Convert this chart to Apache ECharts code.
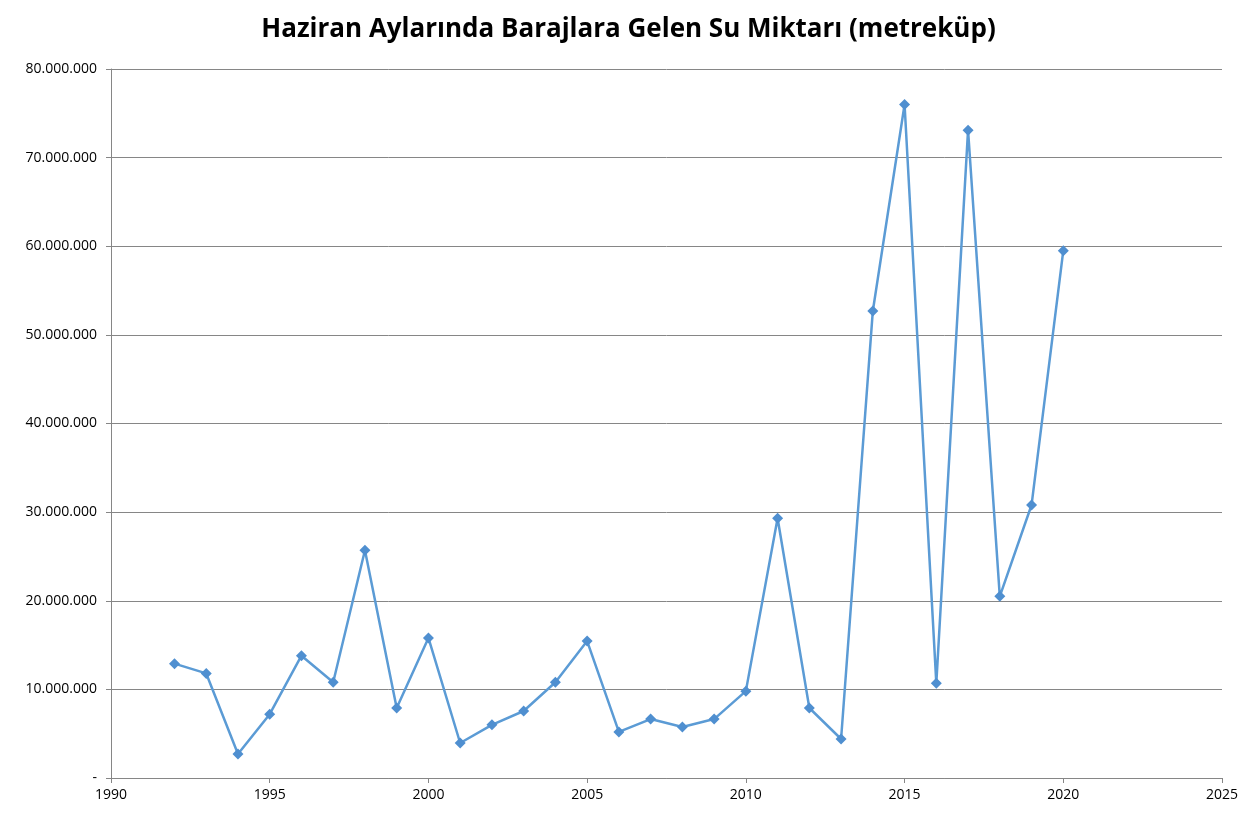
<!DOCTYPE html>
<html>
<head>
<meta charset="utf-8">
<script src="https://cdn.jsdelivr.net/npm/echarts@6/dist/echarts.min.js"></script>
<style>
  html, body { margin: 0; padding: 0; background: #fff; }
  #main { width: 1257px; height: 822px; }
</style>
</head>
<body>
<div id="main"></div>
<script>
var years = [1992, 1993, 1994, 1995, 1996, 1997, 1998, 1999, 2000, 2001,
  2002, 2003, 2004, 2005, 2006, 2007, 2008, 2009, 2010, 2011,
  2012, 2013, 2014, 2015, 2016, 2017, 2018, 2019, 2020];
var values = [12900000, 11800000, 2700000, 7200000, 13800000, 10800000, 25700000, 7900000, 15800000, 3950000,
  6000000, 7560000, 10800000, 15450000, 5200000, 6650000, 5750000, 6650000, 9800000, 29300000,
  7900000, 4400000, 52700000, 76000000, 10700000, 73100000, 20500000, 30800000, 59500000];

var titleText = 'Haziran Aylarında Barajlara Gelen Su Miktarı (metreküp)';

(function () {
  var myChart = echarts.init(document.getElementById('main'));
  var seriesData = years.map(function (y, i) { return [y, values[i]]; });

  function fmt(v) {
    if (v === 0) return '-';
    return String(v).replace(/\B(?=(\d{3})+(?!\d))/g, '.');
  }

  var option = {
    animation: false,
    title: {
      text: titleText,
      left: 'center',
      top: 12,
      textStyle: {
        fontFamily: 'Open Sans',
        fontWeight: 'bold',
        fontSize: 26,
        color: '#000'
      }
    },
    grid: { left: 111, right: 35, top: 69, bottom: 44 },
    xAxis: {
      type: 'value',
      min: 1990,
      max: 2025,
      interval: 5,
      axisLine: { lineStyle: { color: '#868686', width: 1 } },
      axisTick: { show: true, length: 5, lineStyle: { color: '#868686' } },
      axisLabel: {
        color: '#000',
        fontFamily: 'Open Sans',
        fontSize: 14,
        margin: 10,
        formatter: function (v) { return String(v); }
      },
      splitLine: { show: false }
    },
    yAxis: {
      type: 'value',
      min: 0,
      max: 80000000,
      interval: 10000000,
      axisLine: { show: true, lineStyle: { color: '#868686', width: 1 } },
      axisTick: { show: true, length: 5, lineStyle: { color: '#868686' } },
      axisLabel: {
        color: '#000',
        fontFamily: 'Open Sans',
        fontSize: 14,
        margin: 14,
        formatter: fmt
      },
      splitLine: { show: true, lineStyle: { color: '#868686', width: 1 } }
    },
    series: [{
      type: 'line',
      data: seriesData,
      symbol: 'diamond',
      symbolSize: 11,
      lineStyle: { color: '#5B9BD5', width: 2.5 },
      itemStyle: { color: '#4F8FD0' }
    }]
  };

  myChart.setOption(option);
})();
</script>
</body>
</html>
